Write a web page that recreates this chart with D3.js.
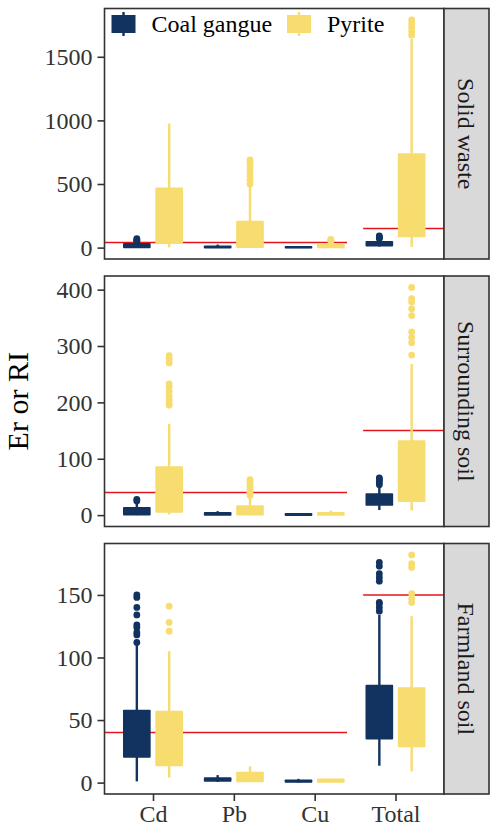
<!DOCTYPE html>
<html lang="en">
    <head>
        <meta charset="UTF-8" />
        <title>Er or RI boxplots</title>
        <style>
            body {
                margin: 0;
                background: #fff;
            }

            svg text {
                font-family: 'Liberation Serif', 'Times New Roman', serif;
            }
        </style>
    </head>

    <body>
        <svg width="499" height="833"></svg>
        <script src="https://d3js.org/d3.v7.min.js"></script>
        <script>
            const facets = ['Solid waste', 'Surrounding soil', 'Farmland soil'];
            const categories = ['Cd', 'Pb', 'Cu', 'Total'];
            const groups = ['Coal gangue', 'Pyrite'];

            // box stats per category: [lower whisker, q1, median, q3, upper whisker]
            const solidCoal = [[0, 3, 12, 30, 42], [0, 1, 4, 10, 24], [0, 0.5, 2, 5, 10], [8, 16, 28, 44, 66]];
            const solidCoalOut = [[48, 55, 62, 70], [], [], [72, 78, 84, 92]];
            const solidPyrite = [[2, 35, 150, 465, 975], [0, 5, 40, 205, 480], [0, 3, 10, 25, 45], [5, 88, 300, 735, 1640]];
            const solidPyriteOut = [[], [500, 530, 560, 590, 620, 650, 670, 690], [52, 58, 65], [1670, 1700, 1730, 1760, 1790]];

            const surroundCoal = [[0, 1, 5, 13, 20], [0, 0.5, 2, 4, 7], [0, 0.2, 0.8, 2, 3.5], [9, 18, 26, 37, 50]];
            const surroundCoalOut = [[25, 28], [], [], [54, 58, 61, 64, 66]];
            const surroundPyrite = [[1, 6, 30, 85, 162], [0, 1, 6, 16, 30], [0, 0.5, 2, 4, 8], [8, 25, 60, 131, 268]];
            const surroundPyriteOut = [
                [195, 199, 205, 212, 220, 228, 233, 270, 277, 283],
                [35, 40, 45, 50, 55, 60, 63],
                [],
                [284, 306, 315, 325, 354, 366, 378, 384, 404]
            ];

            const farmCoal = [[1, 20.6, 38, 57.6, 110], [0.5, 1.5, 2.5, 3.5, 6], [0.2, 0.6, 1, 1.8, 3], [13.5, 35.2, 55, 77.5, 134]];
            const farmCoalOut = [[112, 118, 120, 124, 126, 134, 140, 148, 150], [], [], [137, 140, 143, 144, 161, 164, 167, 173, 176]];
            const farmPyrite = [[4, 13.8, 35, 56.8, 105], [0.5, 1, 4, 8, 13], [0.3, 0.6, 1.2, 2.5, 3], [9, 29, 50, 75.4, 133]];
            const farmPyriteOut = [[121, 128, 141], [], [], [144, 147, 151, 172, 175, 182]];

            // tick labels of each facet's y axis
            const solidTicks = [0, 500, 1000, 1500];
            const surroundTicks = [0, 100, 200, 300, 400];
            const farmTicks = [0, 50, 100, 150];

            // reference lines: Er = 40 for single metals, RI = 150 for Total
            const refLines = [40, 150];

            const panels = [
                { stats: [solidCoal, solidPyrite], out: [solidCoalOut, solidPyriteOut], ticks: solidTicks },
                { stats: [surroundCoal, surroundPyrite], out: [surroundCoalOut, surroundPyriteOut], ticks: surroundTicks },
                { stats: [farmCoal, farmPyrite], out: [farmCoalOut, farmPyriteOut], ticks: farmTicks }
            ];

            const colors = d3.scaleOrdinal().domain(groups).range(['#12335f', '#f7dc6f']);
            const serif = "'Liberation Serif', 'Times New Roman', serif";

            const svg = d3.select('svg');
            const left = 104.5,
                right = 444,
                stripW = 45,
                panelTops = [8.5, 276, 543.5],
                panelH = 250.5;

            const x = d3.scalePoint().domain(categories).range([left, right]).padding(0.6);
            const step = x.step();
            const dodge = d3.scaleOrdinal().domain(groups).range([-0.2 * step, 0.2 * step]);
            const boxW = 0.32 * step;

            panels.forEach((p, pi) => {
                const top = panelTops[pi];
                const allVals = p.stats.flat(2).concat(p.out.flat(2));
                const lo = Math.min(0, d3.min(allVals)),
                    hi = d3.max(allVals);
                const pad = (hi - lo) * 0.05;
                const y = d3
                    .scaleLinear()
                    .domain([lo - pad, hi + pad])
                    .range([top + panelH, top]);

                const g = svg.append('g');

                // y axis
                const yAxis = g
                    .append('g')
                    .attr('transform', `translate(${left},0)`)
                    .call(d3.axisLeft(y).tickValues(p.ticks).tickFormat(d3.format('d')).tickSize(7).tickPadding(5));
                yAxis.attr('font-family', serif);
                yAxis.select('.domain').remove();
                yAxis.selectAll('line').attr('stroke', '#333').attr('stroke-width', 1.6);
                yAxis.selectAll('text').attr('fill', '#333').style('font-size', '24px');

                // reference lines
                g.append('line')
                    .attr('x1', left)
                    .attr('x2', x('Cu') + 0.4 * step)
                    .attr('y1', y(refLines[0]))
                    .attr('y2', y(refLines[0]))
                    .attr('stroke', '#e3141b')
                    .attr('stroke-width', 1.5);
                g.append('line')
                    .attr('x1', x('Total') - 0.4 * step)
                    .attr('x2', right)
                    .attr('y1', y(refLines[1]))
                    .attr('y2', y(refLines[1]))
                    .attr('stroke', '#e3141b')
                    .attr('stroke-width', 1.5);

                groups.forEach((grp, gi) => {
                    const col = colors(grp);
                    categories.forEach((cat, ci) => {
                        const [w0, q1, med, q3, w1] = p.stats[gi][ci];
                        const cx = x(cat) + dodge(grp);
                        const bg = g.append('g');
                        bg.append('line')
                            .attr('x1', cx)
                            .attr('x2', cx)
                            .attr('y1', y(w1))
                            .attr('y2', y(q3))
                            .attr('stroke', col)
                            .attr('stroke-width', 2.4);
                        bg.append('line')
                            .attr('x1', cx)
                            .attr('x2', cx)
                            .attr('y1', y(q1))
                            .attr('y2', y(w0))
                            .attr('stroke', col)
                            .attr('stroke-width', 2.4);
                        bg.append('rect')
                            .attr('x', cx - boxW / 2)
                            .attr('width', boxW)
                            .attr('y', y(q3))
                            .attr('height', y(q1) - y(q3))
                            .attr('fill', col)
                            .attr('stroke', col)
                            .attr('stroke-width', 1.8)
                            .attr('stroke-linejoin', 'round');
                        bg.append('line')
                            .attr('x1', cx - boxW / 2)
                            .attr('x2', cx + boxW / 2)
                            .attr('y1', y(med))
                            .attr('y2', y(med))
                            .attr('stroke', col)
                            .attr('stroke-width', 1.5);
                        bg.selectAll('circle')
                            .data(p.out[gi][ci])
                            .join('circle')
                            .attr('cx', cx)
                            .attr('cy', (d) => y(d))
                            .attr('r', 3.4)
                            .attr('fill', col);
                    });
                });

                // panel border
                g.append('rect')
                    .attr('x', left)
                    .attr('y', top)
                    .attr('width', right - left)
                    .attr('height', panelH)
                    .attr('fill', 'none')
                    .attr('stroke', '#333')
                    .attr('stroke-width', 1.6);

                // strip
                g.append('rect')
                    .attr('x', right)
                    .attr('y', top)
                    .attr('width', stripW)
                    .attr('height', panelH)
                    .attr('fill', '#d9d9d9')
                    .attr('stroke', '#333')
                    .attr('stroke-width', 1.6);
                g.append('text')
                    .attr('transform', `translate(${right + stripW / 2},${top + panelH / 2}) rotate(90)`)
                    .attr('text-anchor', 'middle')
                    .attr('dy', '0.35em')
                    .attr('fill', '#1a1a1a')
                    .style('font-size', '24px')
                    .text(facets[pi]);

                // x axis only under the last panel
                if (pi === panels.length - 1) {
                    const xAxis = g
                        .append('g')
                        .attr('transform', `translate(0,${top + panelH})`)
                        .call(d3.axisBottom(x).tickSize(7).tickPadding(4));
                    xAxis.attr('font-family', serif);
                    xAxis.select('.domain').remove();
                    xAxis.selectAll('line').attr('stroke', '#333').attr('stroke-width', 1.6);
                    xAxis.selectAll('text').attr('fill', '#333').style('font-size', '24px');
                }
            });

            // y title
            svg.append('text')
                .attr('transform', `translate(28,${(panelTops[0] + panelTops[2] + panelH) / 2}) rotate(-90)`)
                .attr('text-anchor', 'middle')
                .attr('fill', '#000')
                .style('font-size', '30px')
                .text('Er or RI');

            // legend inside the top panel
            const legend = svg.append('g').attr('transform', 'translate(111.5,15)');
            const keyX = [0, 175.5];
            groups.forEach((grp, i) => {
                const lg = legend.append('g').attr('transform', `translate(${keyX[i]},0)`);
                lg.append('line')
                    .attr('x1', 12)
                    .attr('x2', 12)
                    .attr('y1', -3)
                    .attr('y2', 21)
                    .attr('stroke', colors(grp))
                    .attr('stroke-width', 2.4);
                lg.append('rect').attr('width', 24).attr('height', 18).attr('fill', colors(grp));
                lg.append('text')
                    .attr('x', 40)
                    .attr('y', 16.5)
                    .attr('fill', '#000')
                    .style('font-size', '24px')
                    .text(grp);
            });
        </script>
    </body>
</html>
